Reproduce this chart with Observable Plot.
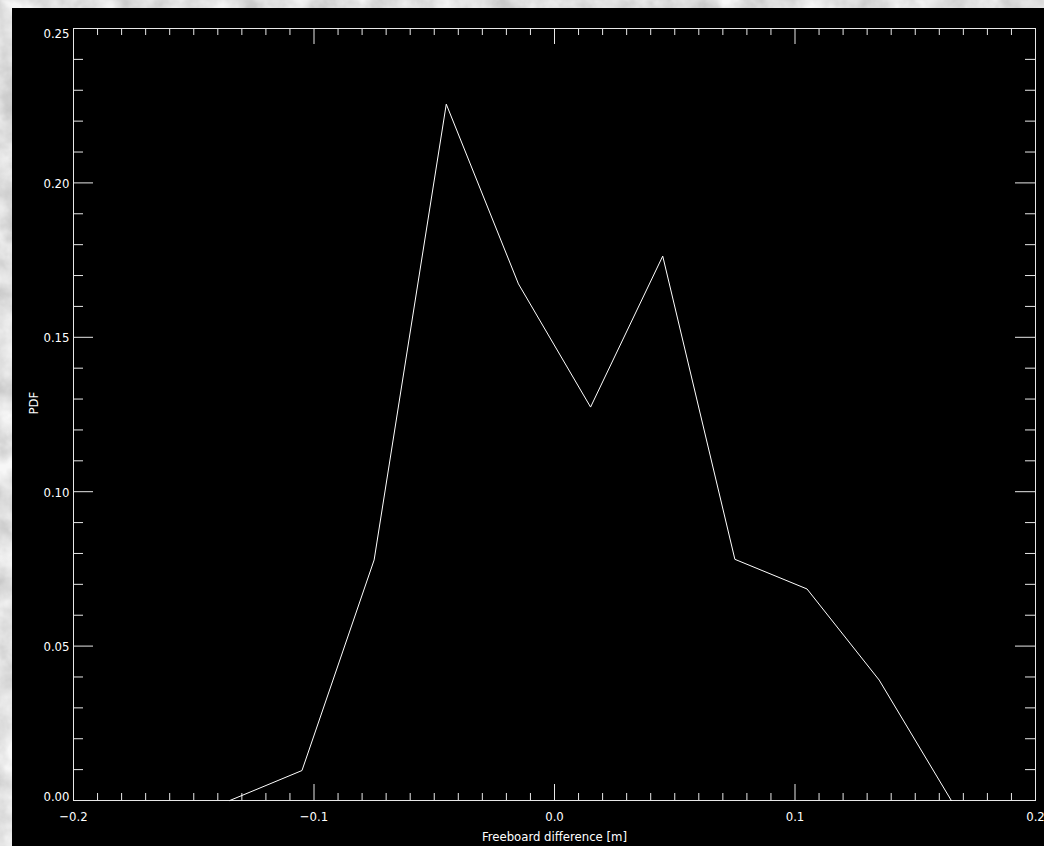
<!DOCTYPE html>
<html>
<head>
<meta charset="utf-8">
<script src="https://cdn.jsdelivr.net/npm/d3@7"></script>
<script src="https://cdn.jsdelivr.net/npm/@observablehq/plot@0.6"></script>
<style>
  html, body { margin: 0; padding: 0; width: 1044px; height: 846px; overflow: hidden; background: #d6d6d6; }
  #bgtex { position: absolute; left: 0; top: 0; }
  #panel { position: absolute; left: 12px; top: 8px; width: 1032px; height: 838px; background: #000; }
  #chart { position: absolute; left: 0; top: 0; }
</style>
</head>
<body>
<svg id="bgtex" width="1044" height="846">
  <filter id="marble">
    <feTurbulence type="fractalNoise" baseFrequency="0.035" numOctaves="4" seed="3"/>
    <feColorMatrix type="matrix" values="0 0 0 0 0.93  0 0 0 0 0.93  0 0 0 0 0.93  -0.9 -0.9 -0.9 0 1.85"/>
  </filter>
  <rect width="1044" height="846" fill="#c9c9c9"/>
  <rect width="1044" height="846" filter="url(#marble)"/>
</svg>
<div id="panel"></div>
<div id="chart"></div>
<script>
// Bin centres (m) and probability density values
const binCenters = [-0.135, -0.105, -0.075, -0.045, -0.015, 0.015, 0.045, 0.075, 0.105, 0.135, 0.165];
const pdfValues  = [0.0, 0.0097, 0.0779, 0.2255, 0.1673, 0.1274, 0.1763, 0.0781, 0.0685, 0.039, 0.0];

// Axis ticks
const xMajorTicks = [-0.2, -0.1, 0.0, 0.1, 0.2];
const xMinorTicks = d3.range(-20, 21).filter(i => i % 10 !== 0).map(i => i / 100);
const yMajorTicks = [0.00, 0.05, 0.10, 0.15, 0.20, 0.25];
const yMinorTicks = d3.range(0, 26).filter(i => i % 5 !== 0).map(i => i / 100);

const xTitle = "Freeboard difference [m]";
const yTitle = "PDF";

const data = binCenters.map((x, i) => ({x, y: pdfValues[i]}));

const W = 1044, H = 846;
const mL = 73, mR = 9, mT = 28, mB = 46;
const pw = W - mL - mR, ph = H - mT - mB;

const fmtX = d => d.toFixed(1).replace("-", "\u2212");
const fmtY = d => d.toFixed(2);
const font = "'Liberation Sans Narrow', 'DejaVu Sans Condensed', 'Roboto Condensed', 'Liberation Sans', sans-serif";

const chart = Plot.plot({
  width: W,
  height: H,
  marginLeft: mL, marginRight: mR, marginTop: mT, marginBottom: mB,
  style: {background: "transparent", color: "#fff", fontFamily: font, fontSize: "13px", fontStretch: "condensed"},
  x: {domain: [-0.2, 0.2], axis: null},
  y: {domain: [0, 0.25], axis: null},
  marks: [
    Plot.frame({stroke: "#e8e8e8", strokeWidth: 1}),
    // bottom ticks
    Plot.tickX(xMinorTicks, {x: d => d, stroke: "#e8e8e8", insetTop: ph - 7}),
    Plot.tickX(xMajorTicks, {x: d => d, stroke: "#e8e8e8", insetTop: ph - 16}),
    // top ticks
    Plot.tickX(xMinorTicks, {x: d => d, stroke: "#e8e8e8", insetBottom: ph - 7}),
    Plot.tickX(xMajorTicks, {x: d => d, stroke: "#e8e8e8", insetBottom: ph - 16}),
    // left ticks
    Plot.tickY(yMinorTicks, {y: d => d, stroke: "#e8e8e8", insetRight: pw - 10}),
    Plot.tickY(yMajorTicks, {y: d => d, stroke: "#e8e8e8", insetRight: pw - 20}),
    // right ticks
    Plot.tickY(yMinorTicks, {y: d => d, stroke: "#e8e8e8", insetLeft: pw - 10}),
    Plot.tickY(yMajorTicks, {y: d => d, stroke: "#e8e8e8", insetLeft: pw - 20}),
    // x tick labels
    Plot.text(xMajorTicks, {x: d => d, text: fmtX, frameAnchor: "bottom", lineAnchor: "top", dy: 11, fill: "#fff"}),
    // y tick labels
    Plot.text(yMajorTicks.filter(d => d > 0 && d < 0.25), {y: d => d, text: fmtY, frameAnchor: "left", textAnchor: "end", dx: -4, dy: 1, fill: "#fff"}),
    Plot.text(yMajorTicks.filter(d => d === 0), {y: d => d, text: fmtY, frameAnchor: "left", textAnchor: "end", dx: -4, dy: -4, fill: "#fff"}),
    Plot.text(yMajorTicks.filter(d => d === 0.25), {y: d => d, text: fmtY, frameAnchor: "left", textAnchor: "end", dx: -4, dy: 5, fill: "#fff"}),
    // axis titles
    Plot.text([xTitle], {text: d => d, frameAnchor: "bottom", lineAnchor: "middle", dy: 36, fill: "#fff"}),
    Plot.text([yTitle], {text: d => d, frameAnchor: "left", rotate: -90, dx: -40, fill: "#fff"}),
    // PDF curve
    Plot.line(data, {x: "x", y: "y", stroke: "#fff", strokeWidth: 1})
  ]
});
document.getElementById("chart").appendChild(chart);
</script>
</body>
</html>
